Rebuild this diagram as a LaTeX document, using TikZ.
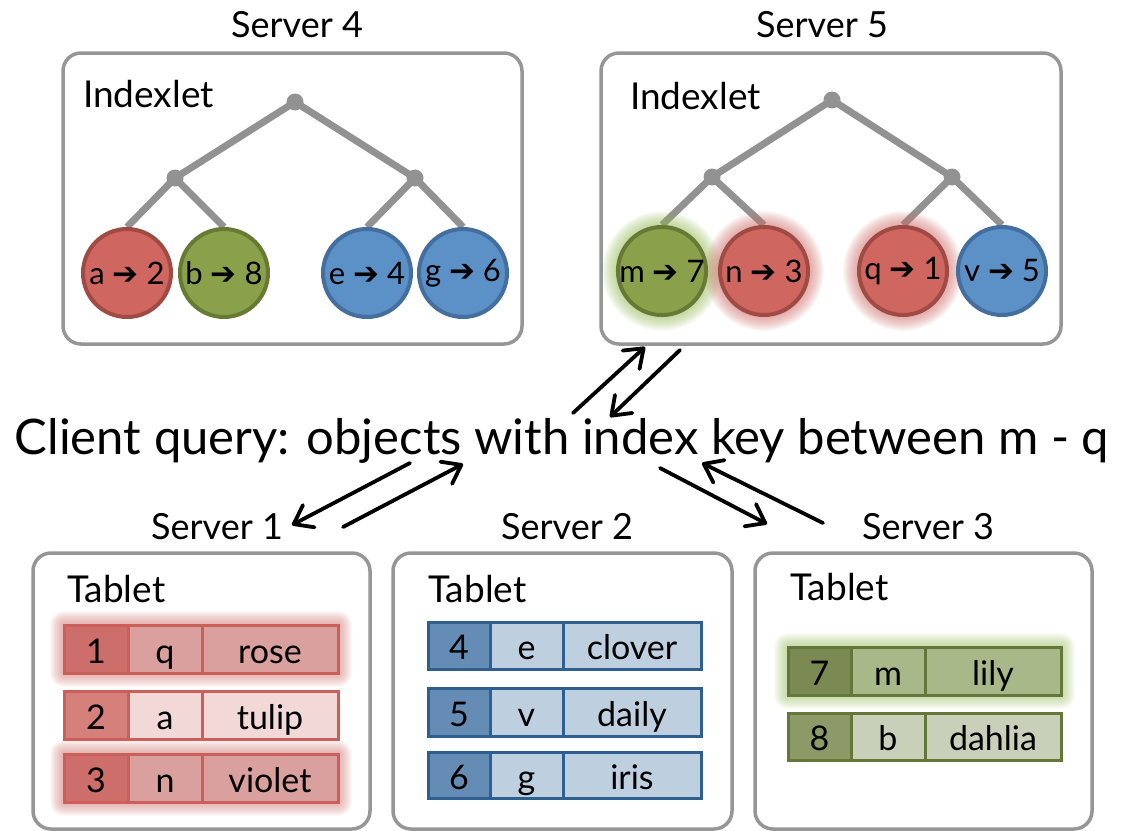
\documentclass[tikz,border=0pt]{standalone}
\usepackage{fontspec}
\setmainfont{Lato}
\newfontfamily\symfont{DejaVu Sans}
\usetikzlibrary{arrows.meta,calc}

% palette
\definecolor{frame}{RGB}{150,150,150}
\definecolor{treegray}{RGB}{146,146,146}
\definecolor{redfill}{RGB}{207,102,95}
\definecolor{redline}{RGB}{160,74,68}
\definecolor{redglow}{RGB}{205,110,105}
\definecolor{greenfill}{RGB}{138,160,74}
\definecolor{greenline}{RGB}{102,122,52}
\definecolor{greenglow}{RGB}{150,185,90}
\definecolor{bluefill}{RGB}{92,145,199}
\definecolor{blueline}{RGB}{68,110,158}
% tablet rows
\definecolor{rline}{RGB}{205,95,90}
\definecolor{rkeyA}{RGB}{205,110,106}
\definecolor{rvalA}{RGB}{217,160,158}
\definecolor{rkeyB}{RGB}{214,128,124}
\definecolor{rvalB}{RGB}{243,216,216}
\definecolor{bline}{RGB}{45,95,145}
\definecolor{bkey}{RGB}{100,140,180}
\definecolor{bval}{RGB}{190,207,224}
\definecolor{gline}{RGB}{100,118,56}
\definecolor{gkeyA}{RGB}{122,138,82}
\definecolor{gvalA}{RGB}{168,184,136}
\definecolor{gkeyB}{RGB}{140,154,104}
\definecolor{gvalB}{RGB}{200,208,185}

\pgfdeclarelayer{lines}
\pgfdeclarelayer{halo}
\pgfsetlayers{lines,halo,main}

\newcommand\arr{{\symfont ➔}}

% soft halo round a circle: colour, centre, radius
\newcommand\glowcirc[3]{%
  \foreach \k in {1,...,16}{\fill[#1, opacity=0.055] (#2) circle[radius=#3+\k pt];}}
% soft halo round a box: colour, top-left, bottom-right
\newcommand\glowbox[3]{%
  \foreach \k in {1,...,14}{\fill[#1, opacity=0.05, rounded corners=\k pt]
    ($(#2)+(-\k,-\k)$) rectangle ($(#3)+(\k,\k)$);}}

% one tablet row: name, top, bottom, key fill, value fill, id, key, value
\newcommand\trow[8]{%
  \node[cell, fill=#4, minimum width=\xb pt-\xa pt, minimum height=#3 pt-#2 pt] (#1a) at (\xa,#2) {#6};
  \node[cell, fill=#5, minimum width=\xc pt-\xb pt, minimum height=#3 pt-#2 pt] (#1b) at (\xb,#2) {#7};
  \node[cell, fill=#5, minimum width=\xd pt-\xc pt, minimum height=#3 pt-#2 pt] (#1c) at (\xc,#2) {#8};}

\tikzset{
  server/.style={draw=frame, line width=3.5pt, rounded corners=18pt},
  srvlabel/.style={font=\fontsize{36}{40}\selectfont, anchor=base, inner sep=0},
  boxtitle/.style={font=\fontsize{37}{40}\selectfont, anchor=base west, inner sep=0},
  junction/.style={circle, fill=treegray, minimum size=17pt, inner sep=0},
  branch/.style={draw=treegray, line width=7pt},
  leaf/.style={circle, minimum size=88pt, inner sep=0, line width=4pt,
    font=\fontsize{31}{34}\selectfont},
  redleaf/.style={leaf, fill=redfill, draw=redline},
  greenleaf/.style={leaf, fill=greenfill, draw=greenline},
  blueleaf/.style={leaf, fill=bluefill, draw=blueline},
  cell/.style={draw=cellline, line width=3pt, inner sep=0, outer sep=0, anchor=north west,
    font=\fontsize{34}{38}\selectfont, text height=30pt, text depth=2pt},
  msg/.style={line width=3.8pt, line cap=round,
    -{Straight Barb[length=17pt,width=25pt,round]}},
}

\begin{document}
\begin{tikzpicture}[x=1pt, y=-1pt]
\useasboundingbox (0,0) rectangle (1121,830);

% ---------- index servers ----------
\draw[server] (63,53) rectangle (522,344);
\draw[server] (601,53) rectangle (1061,344);
\node[srvlabel] (s4) at (297,37) {Server 4};
\node[srvlabel] (s5) at (822,37) {Server 5};
\node[boxtitle] (ix4) at (83,107) {Indexlet};
\node[boxtitle] (ix5) at (630,109) {Indexlet};

% indexlet trees
\node[junction] (r4) at (295,102) {};
\node[junction] (l4) at (175,178) {};
\node[junction] (k4) at (415,178) {};
\node[redleaf]   (a) at (127,273) {a \arr{} 2};
\node[greenleaf] (b) at (224,273) {b \arr{} 8};
\node[blueleaf]  (e) at (367,273) {e \arr{} 4};
\node[blueleaf]  (g) at (463,273) {g \arr{} 6};

\node[junction] (r5) at (832,100) {};
\node[junction] (l5) at (712,177) {};
\node[junction] (k5) at (952,177) {};
\node[greenleaf] (m) at (662,271) {m \arr{} 7};
\node[redleaf]   (n) at (764,271) {n \arr{} 3};
\node[redleaf]   (q) at (903,271) {q \arr{} 1};
\node[blueleaf]  (v) at (1002,271) {v \arr{} 5};

\begin{pgfonlayer}{lines}
  \draw[branch] (l4.center) -- (r4.center) -- (k4.center);
  \draw[branch] (a.north) -- (l4.center) -- (b.north);
  \draw[branch] (e.north) -- (k4.center) -- (g.north);
  \draw[branch] (l5.center) -- (r5.center) -- (k5.center);
  \draw[branch] (m.north) -- (l5.center) -- (n.north);
  \draw[branch] (q.north) -- (k5.center) -- (v.north);
\end{pgfonlayer}
\begin{pgfonlayer}{halo}
  \glowcirc{greenglow}{m.center}{44pt}
  \glowcirc{redglow}{n.center}{44pt}
  \glowcirc{redglow}{q.center}{44pt}
\end{pgfonlayer}

% ---------- query ----------
\node[font=\fontsize{49}{54}\selectfont, anchor=base, inner sep=0] (query) at (562,454)
  {Client query: objects with index key between m - q};

% ---------- tablet servers ----------
\draw[server] (33,553) rectangle (370,829);
\draw[server] (393,553) rectangle (732,829);
\draw[server] (755,553) rectangle (1092,829);
\node[srvlabel] (s1) at (217,539) {Server 1};
\node[srvlabel] (s2) at (567,539) {Server 2};
\node[srvlabel] (s3) at (928,539) {Server 3};
\node[boxtitle] (tb1) at (67,602) {Tablet};
\node[boxtitle] (tb2) at (428,602) {Tablet};
\node[boxtitle] (tb3) at (790,600) {Tablet};

\colorlet{cellline}{rline}
\def\xa{64}\def\xb{128}\def\xc{202}\def\xd{338}
\trow{t1r1}{625}{673}{rkeyA}{rvalA}{1}{q}{rose}
\trow{t1r2}{691}{739}{rkeyB}{rvalB}{2}{a}{tulip}
\trow{t1r3}{754}{802}{rkeyA}{rvalA}{3}{n}{violet}

\colorlet{cellline}{bline}
\def\xa{428}\def\xb{490}\def\xc{563}\def\xd{701}
\trow{t2r1}{622}{669}{bkey}{bval}{4}{e}{clover}
\trow{t2r2}{688}{736}{bkey}{bval}{5}{v}{daily}
\trow{t2r3}{752}{798}{bkey}{bval}{6}{g}{iris}

\colorlet{cellline}{gline}
\def\xa{788}\def\xb{851}\def\xc{925}\def\xd{1061}
\trow{t3r1}{647}{695}{gkeyA}{gvalA}{7}{m}{lily}
\trow{t3r2}{713}{760}{gkeyB}{gvalB}{8}{b}{dahlia}

\begin{pgfonlayer}{halo}
  \glowbox{redglow}{t1r1a.north west}{t1r1c.south east}
  \glowbox{redglow}{t1r3a.north west}{t1r3c.south east}
  \glowbox{greenglow}{t3r1a.north west}{t3r1c.south east}
\end{pgfonlayer}

% ---------- request / reply messages ----------
\coordinate (up5s) at (573,413);  \coordinate (up5e) at (645,347);
\coordinate (dn5s) at (680,350);  \coordinate (dn5e) at (610,417);
\coordinate (to1s) at (410,463);  \coordinate (to1e) at (292,525);
\coordinate (fr1s) at (343,527);  \coordinate (fr1e) at (463,464);
\coordinate (to3s) at (660,468);  \coordinate (to3e) at (767,524);
\coordinate (fr3s) at (823,523);  \coordinate (fr3e) at (702,463);
\draw[msg] (up5s) -- (up5e);
\draw[msg] (dn5s) -- (dn5e);
\draw[msg] (to1s) -- (to1e);
\draw[msg] (fr1s) -- (fr1e);
\draw[msg] (to3s) -- (to3e);
\draw[msg] (fr3s) -- (fr3e);
\end{tikzpicture}
\end{document}
